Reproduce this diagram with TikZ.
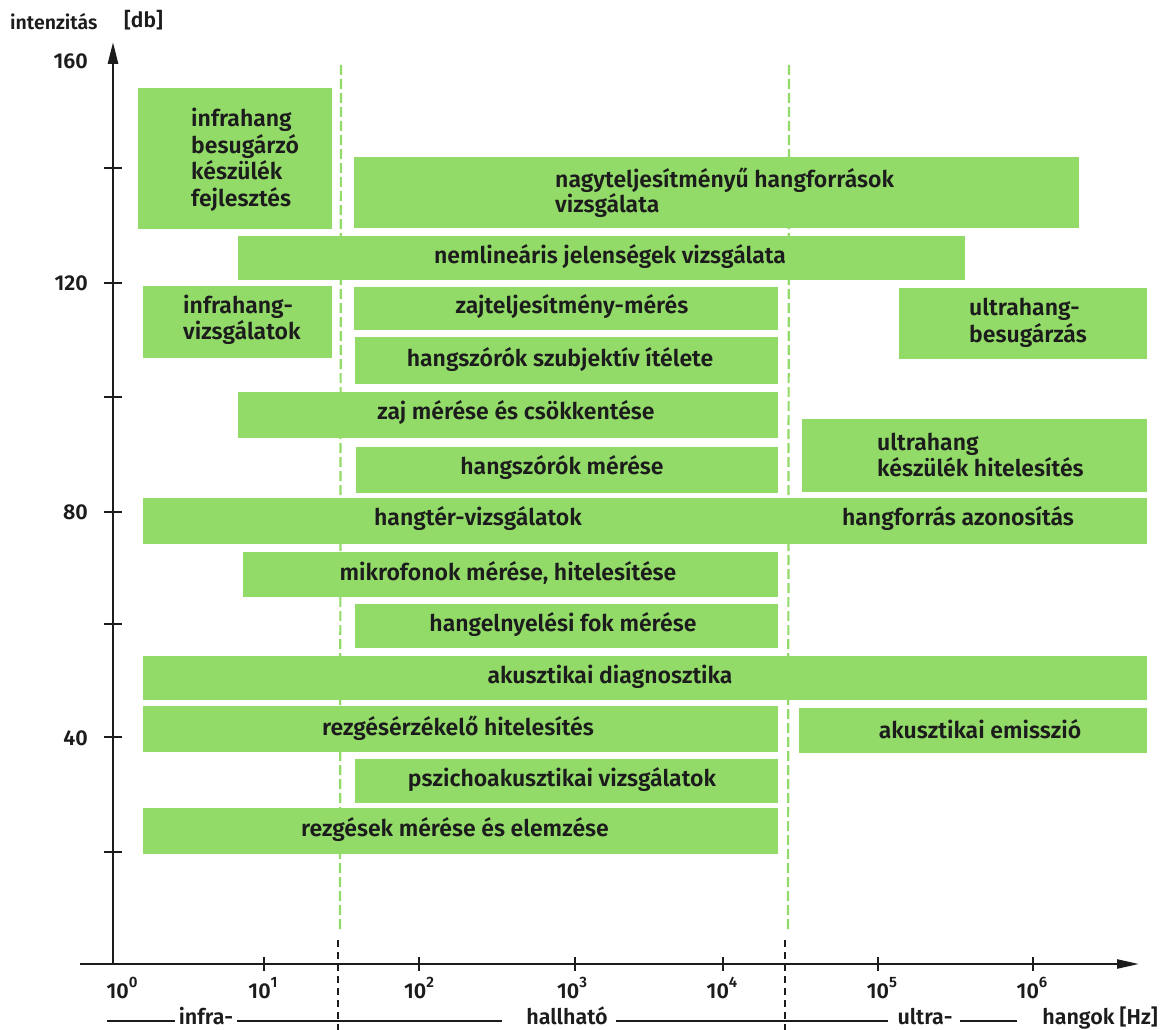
\documentclass[tikz,border=0pt]{standalone}
\usepackage{fontspec}
\setmainfont{Fira Sans}[UprightFont={* SemiBold}]
\usetikzlibrary{arrows.meta}
\definecolor{boxgreen}{RGB}{146,219,104}
\definecolor{ink}{RGB}{28,28,28}
\newcommand\tenpow[1]{10\raisebox{0.5em}{\fontsize{15}{15}\selectfont #1}}
\begin{document}
\begin{tikzpicture}[x=1pt,y=-1pt,
  box/.style={fill=boxgreen, draw=none, inner sep=0pt, anchor=north west},
  txt/.style={font=\fontsize{23}{26}\selectfont, text=ink, inner sep=0pt},
  axlbl/.style={font=\fontsize{21.5}{24}\selectfont, text=ink, inner sep=0pt},
  rnglbl/.style={font=\fontsize{21.5}{24}\selectfont, text=ink, inner sep=0pt, anchor=base},
  gdash/.style={draw=boxgreen, line width=2.2pt, dash pattern=on 10pt off 4pt},
  kdash/.style={draw=ink, line width=2.4pt, dash pattern=on 7pt off 5pt},
  axisline/.style={draw=ink, line width=2.6pt},
  tickmark/.style={draw=ink, line width=2.4pt},
  rngline/.style={draw=ink, line width=2pt}]
\useasboundingbox (0,0) rectangle (1170,1030);
\fill[white] (0,0) rectangle (1170,1030);

% boundary dashed lines
\coordinate (d1t) at (341,65);  \coordinate (d1b) at (340,932);
\coordinate (d2t) at (789,65);  \coordinate (d2b) at (788,932);
\coordinate (k1t) at (338,940); \coordinate (k1b) at (338,1030);
\coordinate (k2t) at (785,940); \coordinate (k2b) at (785,1030);
\draw[gdash] (d1t) -- (d1b);
\draw[gdash] (d2t) -- (d2b);
\draw[kdash] (k1t) -- (k1b);
\draw[kdash] (k2t) -- (k2b);

% boxes
\node[box, minimum width=194pt,  minimum height=141pt] (b1)  at (138,88)  {};
\node[box, minimum width=725pt,  minimum height=71pt]  (b2)  at (354,157) {};
\node[box, minimum width=727pt,  minimum height=44pt]  (b3)  at (238,236) {};
\node[box, minimum width=189pt,  minimum height=72pt]  (b4)  at (143,286) {};
\node[box, minimum width=424pt,  minimum height=43pt]  (b5)  at (354,287) {};
\node[box, minimum width=248pt,  minimum height=71pt]  (b6)  at (899,288) {};
\node[box, minimum width=423pt,  minimum height=47pt]  (b7)  at (355,337) {};
\node[box, minimum width=540pt,  minimum height=46pt]  (b8)  at (238,392) {};
\node[box, minimum width=422pt,  minimum height=46pt]  (b9)  at (356,447) {};
\node[box, minimum width=345pt,  minimum height=73pt]  (b10) at (802,419) {};
\node[box, minimum width=1004pt, minimum height=46pt]  (b11) at (143,498) {};
\node[box, minimum width=535pt,  minimum height=45pt]  (b12) at (243,552) {};
\node[box, minimum width=423pt,  minimum height=44pt]  (b13) at (355,604) {};
\node[box, minimum width=1004pt, minimum height=44pt]  (b14) at (143,656) {};
\node[box, minimum width=635pt,  minimum height=46pt]  (b15) at (143,706) {};
\node[box, minimum width=348pt,  minimum height=45pt]  (b16) at (799,708) {};
\node[box, minimum width=423pt,  minimum height=44pt]  (b17) at (355,759) {};
\node[box, minimum width=635pt,  minimum height=46pt]  (b18) at (143,808) {};

% box texts
\node[txt, anchor=west, align=left, font=\fontsize{23}{26.5}\selectfont] (t1) at (191,160) {infrahang\\besugárzó\\készülék\\fejlesztés};
\node[txt, anchor=west, align=left, font=\fontsize{23}{23.5}\selectfont] (t2) at (555,193) {nagyteljesítményű hangforrások\\vizsgálata};
\node[txt] (t3) at (610,257) {nemlineáris jelenségek vizsgálata};
\node[txt, anchor=west, align=left, font=\fontsize{23}{25.5}\selectfont] (t4) at (183,320) {infrahang-\\vizsgálatok};
\node[txt] (t5) at (572,307) {zajteljesítmény-mérés};
\node[txt, anchor=west, align=left, font=\fontsize{23}{26.5}\selectfont] (t6) at (969,323) {ultrahang-\\besugárzás};
\node[txt] (t7) at (560,360) {hangszórók szubjektív ítélete};
\node[txt] (t8) at (516,413) {zaj mérése és csökkentése};
\node[txt] (t9) at (562,468) {hangszórók mérése};
\node[txt, anchor=west, align=left, font=\fontsize{23}{26.5}\selectfont] (t10) at (877,455) {ultrahang\\készülék hitelesítés};
\node[txt] (t11a) at (478,519) {hangtér-vizsgálatok};
\node[txt] (t11b) at (958,519) {hangforrás azonosítás};
\node[txt] (t12) at (508,573) {mikrofonok mérése, hitelesítése};
\node[txt] (t13) at (563,625) {hangelnyelési fok mérése};
\node[txt] (t14) at (610,677) {akusztikai diagnosztika};
\node[txt] (t15) at (458,728) {rezgésérzékelő hitelesítés};
\node[txt] (t16) at (980,729) {akusztikai emisszió};
\node[txt] (t17) at (562,780) {pszichoakusztikai vizsgálatok};
\node[txt] (t18) at (455,830) {rezgések mérése és elemzése};

% axes
\coordinate (O) at (113,964);
\coordinate (ytop) at (113,42);
\coordinate (xleft) at (80,964);
\coordinate (xend) at (1139,964);
\draw[axisline, -{Triangle[length=22pt,width=10pt]}] (O) -- (ytop);
\draw[axisline, line width=2.3pt, -{Triangle[length=22pt,width=9pt]}] (xleft) -- (xend);

% y ticks and labels
\foreach \yy in {168,283,397,512,624,737,852} {
  \draw[tickmark] (104,\yy) -- (122,\yy);
}
\node[axlbl, anchor=east] (y160) at (88,61) {160};
\node[axlbl, anchor=east] (y120) at (88,283) {120};
\node[axlbl, anchor=east] (y80)  at (88,512) {80};
\node[axlbl, anchor=east] (y40)  at (88,738) {40};
\node[axlbl, anchor=west, font=\fontsize{19.5}{22}\selectfont] (ylab) at (10,22) {intenzitás};
\node[axlbl, anchor=west, font=\fontsize{21}{24}\selectfont] (yunit) at (124,20) {[db]};

% x ticks and labels
\foreach \xx in {264,419,575,723,878,1033} {
  \draw[tickmark] (\xx,957) -- (\xx,971);
}
\node[axlbl] (x0) at (122,988) {\tenpow{0}};
\node[axlbl] (x1) at (263,988) {\tenpow{1}};
\node[axlbl] (x2) at (419,988) {\tenpow{2}};
\node[axlbl] (x3) at (572,988) {\tenpow{3}};
\node[axlbl] (x4) at (722,988) {\tenpow{4}};
\node[axlbl] (x5) at (882,988) {\tenpow{5}};
\node[axlbl] (x6) at (1032,988) {\tenpow{6}};

% range line at bottom
\node[rnglbl] (rinfra) at (206,1024) {infra-};
\node[rnglbl] (rhall) at (567,1024) {hallható};
\node[rnglbl] (rultra) at (925,1024) {ultra-};
\node[rnglbl] (rhang) at (1100,1024) {hangok [Hz]};
\coordinate (s1a) at (107,1021); \coordinate (s1b) at (175,1021);
\coordinate (s2a) at (237,1021); \coordinate (s2b) at (502,1021);
\coordinate (s3a) at (616,1021); \coordinate (s3b) at (888,1021);
\coordinate (s4a) at (960,1021); \coordinate (s4b) at (1017,1021);
\draw[rngline] (s1a) -- (s1b);
\draw[rngline] (s2a) -- (s2b);
\draw[rngline] (s3a) -- (s3b);
\draw[rngline] (s4a) -- (s4b);
\end{tikzpicture}
\end{document}
